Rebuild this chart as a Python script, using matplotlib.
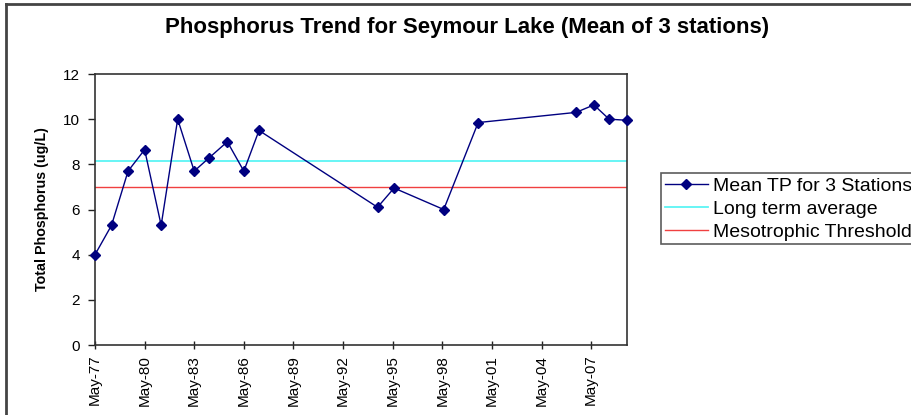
import matplotlib
matplotlib.use("Agg")
import matplotlib.pyplot as plt
import matplotlib.dates as mdates
from matplotlib.lines import Line2D
import datetime as dt

plt.rcParams['font.family'] = ['Liberation Sans', 'DejaVu Sans']

# ---- data ----
sample_dates = ["1977-05", "1978-05", "1979-05", "1980-05", "1981-05", "1982-05",
                "1983-05", "1984-04", "1985-05", "1986-05", "1987-04", "1994-06",
                "1995-06", "1998-06", "2000-07", "2006-06", "2007-07", "2008-06",
                "2009-07"]
mean_tp = [4.0, 5.3, 7.7, 8.65, 5.3, 10.0, 7.7, 8.3, 9.0, 7.7, 9.5, 6.1,
           6.95, 6.0, 9.85, 10.3, 10.63, 10.0, 9.95]
long_term_average = 8.16
mesotrophic_threshold = 7.0
tick_years = [1977, 1980, 1983, 1986, 1989, 1992, 1995, 1998, 2001, 2004, 2007]
y_ticks = [0, 2, 4, 6, 8, 10, 12]

dates = [dt.date(int(s[:4]), int(s[5:]), 1) for s in sample_dates]

W, H = 911, 415
fig = plt.figure(figsize=(W / 100, H / 100), dpi=100)
ax = fig.add_axes([95 / W, 1 - 345 / H, (627 - 95) / W, (345 - 74) / H])

ax.plot(dates, mean_tp, color='#000080', lw=1.0, marker='D', ms=5.5,
        markeredgecolor='#000080', markerfacecolor='#000080',
        label='Mean TP for 3 Stations', zorder=3, clip_on=False)
ax.axhline(long_term_average, color='#5CF5F5', lw=1.3, label='Long term average', zorder=2)
ax.axhline(mesotrophic_threshold, color='#F04040', lw=1.0, label='Mesotrophic Threshold', zorder=2)

ax.set_xlim(dates[0], dates[-1])
ax.set_ylim(0, 12)
ax.set_yticks(y_ticks)
ax.set_xticks([dt.date(y, 5, 1) for y in tick_years])
ax.xaxis.set_major_formatter(mdates.DateFormatter('%b-%y'))
for lab in ax.get_xticklabels():
    lab.set_rotation(90)
ax.tick_params(axis='x', direction='inout', length=6, width=1, labelsize=11, pad=4, colors='#222222')
ax.tick_params(axis='y', direction='out', length=5, width=1, labelsize=11, pad=6, colors='#222222')
for lab in ax.get_xticklabels() + ax.get_yticklabels():
    lab.set_color('black')

for sp in ax.spines.values():
    sp.set_color('#333333')
    sp.set_linewidth(1.2)

ax.set_ylabel('Total Phosphorus (ug/L)', fontsize=10.3, fontweight='bold', labelpad=10)

fig.text(467 / W, 1 - 28 / H, 'Phosphorus Trend for Seymour Lake (Mean of 3 stations)',
         ha='center', va='center', fontsize=16, fontweight='bold')

leg = ax.legend(loc='upper left', bbox_to_anchor=(661 / W, 1 - 173 / H),
                bbox_transform=fig.transFigure, frameon=True, fancybox=False,
                fontsize=14, handlelength=2.2, handletextpad=0.25, borderpad=0.2,
                labelspacing=0.28, borderaxespad=0)
leg.get_frame().set_edgecolor('#333333')
leg.get_frame().set_linewidth(1.2)
for h in leg.legend_handles:
    h.set_markersize(5.5)

# outer chart border (left and top visible)
fig.add_artist(Line2D([6 / W, 6 / W], [0, 1 - 4 / H], transform=fig.transFigure,
                      color='#444444', lw=2))
fig.add_artist(Line2D([6 / W, 1], [1 - 4 / H, 1 - 4 / H], transform=fig.transFigure,
                      color='#444444', lw=2))

fig.savefig('out.png', dpi=100, facecolor='white')
